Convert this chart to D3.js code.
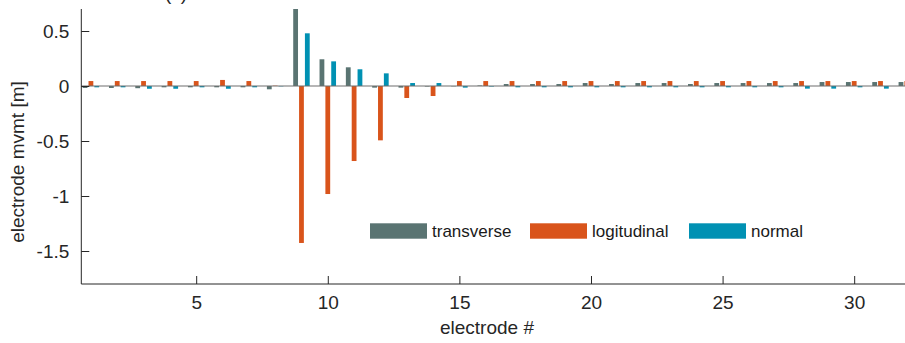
<!DOCTYPE html>
<html>
<head>
<meta charset="utf-8">
<script src="https://cdn.jsdelivr.net/npm/d3@7"></script>
<style>
  html, body { margin: 0; padding: 0; background: #fff; }
  svg { display: block; font-family: "Liberation Sans", Arial, Helvetica, sans-serif; }
</style>
</head>
<body>
<svg id="chart" width="905" height="343"></svg>
<script>
// Electrode movement per electrode, three displacement components (metres)
const electrodes = d3.range(1, 33);
const seriesNames = ["transverse", "logitudinal", "normal"];
const seriesColors = ["#5a7472", "#d9541b", "#0091b3"];

const transverse = [-0.018, -0.018, -0.02, -0.012, -0.012, -0.012, -0.012, -0.03,
  0.95, 0.243, 0.17, -0.015, -0.015, -0.005, -0.003, 0.005,
  0.018, 0.018, 0.018, 0.027, 0.018, 0.027, 0.027, 0.018,
  0.027, 0.027, 0.027, 0.027, 0.036, 0.036, 0.036, 0.036];
const logitudinal = [0.045, 0.045, 0.045, 0.045, 0.045, 0.055, 0.045, 0.003,
  -1.427, -0.982, -0.682, -0.494, -0.109, -0.091, 0.045, 0.045,
  0.045, 0.045, 0.045, 0.045, 0.045, 0.045, 0.045, 0.045,
  0.045, 0.045, 0.045, 0.045, 0.045, 0.045, 0.045, 0.045];
const normal = [-0.012, -0.012, -0.025, -0.025, -0.012, -0.025, -0.012, -0.003,
  0.479, 0.224, 0.152, 0.115, 0.027, 0.027, -0.015, -0.005,
  -0.012, -0.012, -0.012, -0.012, -0.012, -0.012, -0.012, -0.012,
  -0.012, -0.012, -0.012, -0.024, -0.024, -0.012, -0.024, -0.012];

const yTicks = [-1.5, -1, -0.5, 0, 0.5];
const yTickLabels = ["-1.5", "-1", "-0.5", "0", "0.5"];
const xTicks = [5, 10, 15, 20, 25, 30];
const yLimits = [-1.8, 0.7];
const xLimits = [0.635, 32.365];

const seriesValues = [transverse, logitudinal, normal];

const svg = d3.select("#chart");
const plot = { left: 81.3, top: 9, bottom: 284 };
const unitPx = 26.32;

const x = d3.scaleLinear().domain(xLimits)
  .range([plot.left, plot.left + (xLimits[1] - xLimits[0]) * unitPx]);
const y = d3.scaleLinear().domain(yLimits).range([plot.bottom, plot.top]);

const axisColor = "#262626";
const fontSize = 19;

// Grouped bar geometry (three bars per electrode)
const groupWidth = Math.min(0.8, 3 / 4.5);
const slot = groupWidth / 3;
const barW = slot * 0.82;

svg.append("defs").append("clipPath").attr("id", "plotClip")
  .append("rect")
  .attr("x", plot.left).attr("y", plot.top)
  .attr("width", 905 - plot.left).attr("height", plot.bottom - plot.top);

const barsG = svg.append("g").attr("clip-path", "url(#plotClip)");

seriesValues.forEach((vals, si) => {
  const off = (si - 1) * slot;
  barsG.append("g").selectAll("rect")
    .data(electrodes.map((e, i) => ({ e, v: vals[i] })))
    .join("rect")
    .attr("x", d => x(d.e + off - barW / 2))
    .attr("width", d => x(d.e + off + barW / 2) - x(d.e + off - barW / 2))
    .attr("y", d => y(Math.max(0, d.v)))
    .attr("height", d => Math.abs(y(d.v) - y(0)))
    .attr("fill", seriesColors[si]);
});

// Zero baseline
barsG.append("line")
  .attr("x1", plot.left).attr("x2", 905)
  .attr("y1", y(0)).attr("y2", y(0))
  .attr("stroke", "#6e6e6e").attr("stroke-width", 1.2);

// Y axis (ticks pointing inward)
const yAxis = svg.append("g")
  .attr("transform", `translate(${plot.left},0)`)
  .call(d3.axisRight(y).tickValues(yTicks).tickSize(8)
    .tickFormat((d, i) => yTickLabels[i]));
yAxis.select(".domain").remove();
yAxis.selectAll(".tick line").attr("stroke", axisColor);
yAxis.selectAll(".tick text")
  .attr("x", -12).attr("dy", "0.35em")
  .attr("text-anchor", "end")
  .attr("fill", axisColor)
  .style("font-size", fontSize + "px")
  .style("font-family", "'Liberation Sans', Arial, sans-serif");
svg.append("line")
  .attr("x1", plot.left).attr("x2", plot.left)
  .attr("y1", plot.top).attr("y2", plot.bottom)
  .attr("stroke", axisColor).attr("stroke-width", 1);

// X axis (ticks pointing inward)
const xAxis = svg.append("g")
  .attr("transform", `translate(0,${plot.bottom})`)
  .call(d3.axisTop(x).tickValues(xTicks).tickSize(8).tickFormat(d3.format("d")));
xAxis.select(".domain").remove();
xAxis.selectAll(".tick line").attr("stroke", axisColor);
xAxis.selectAll(".tick text")
  .attr("y", 25).attr("dy", 0)
  .attr("fill", axisColor)
  .style("font-size", fontSize + "px")
  .style("font-family", "'Liberation Sans', Arial, sans-serif");
svg.append("line")
  .attr("x1", plot.left).attr("x2", 905)
  .attr("y1", plot.bottom).attr("y2", plot.bottom)
  .attr("stroke", axisColor).attr("stroke-width", 1);

// Axis titles
svg.append("text")
  .attr("x", 487).attr("y", 334)
  .attr("text-anchor", "middle")
  .attr("fill", axisColor)
  .style("font-size", fontSize + "px")
  .text("electrode #");

svg.append("text")
  .attr("transform", "translate(24,162) rotate(-90)")
  .attr("text-anchor", "middle")
  .attr("fill", axisColor)
  .style("font-size", fontSize + "px")
  .text("electrode mvmt [m]");

// Panel title, mostly above the visible area
svg.append("text")
  .attr("x", 165).attr("y", 0)
  .attr("fill", axisColor)
  .style("font-size", fontSize + "px")
  .text("(c)");

// Legend
const legendX = [370, 530, 689];
const legend = svg.append("g");
seriesNames.forEach((name, i) => {
  legend.append("rect")
    .attr("x", legendX[i]).attr("y", 223.3)
    .attr("width", 57).attr("height", 15.4)
    .attr("fill", seriesColors[i]);
  legend.append("text")
    .attr("x", legendX[i] + 62).attr("y", 236.7)
    .attr("fill", "#1a1a1a")
    .style("font-size", "17px")
    .text(name);
});
</script>
</body>
</html>
